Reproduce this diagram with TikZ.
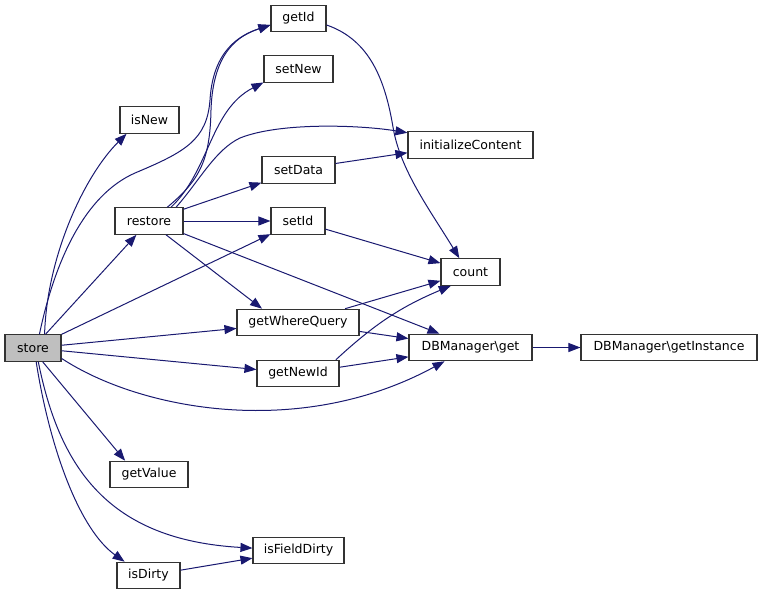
\documentclass[tikz,border=0pt]{standalone}
\usepackage{fontspec}
\setmainfont{DejaVu Sans}
\usetikzlibrary{arrows.meta}
\definecolor{edgeblue}{HTML}{191970}
\tikzset{
  fn/.style={draw=black!80, line width=1.1pt, fill=white, inner sep=0pt,
    font=\fontsize{12.5}{15}\selectfont, minimum height=26.5pt},
  cur/.style={fn, fill=black!25},
  call/.style={draw=edgeblue, line width=1pt, -{Triangle[length=12pt,width=9pt]}, arrows={-{Triangle[length=12pt,width=9pt,fill=edgeblue]}}}
}
\begin{document}
\begin{tikzpicture}[x=1pt,y=-1pt]
\useasboundingbox (0,0) rectangle (763,595);
\node[cur, minimum width=56pt] (store) at (33,348) {store};
\node[fn, minimum width=59pt] (isNew) at (149.5,120) {isNew};
\node[fn, minimum width=68pt] (restore) at (149,221) {restore};
\node[fn, minimum width=55pt] (getId) at (298.5,18.5) {getId};
\node[fn, minimum width=69pt] (setNew) at (298.5,69) {setNew};
\node[fn, minimum width=73pt] (setData) at (298.5,170) {setData};
\node[fn, minimum width=54pt] (setId) at (298,221) {setId};
\node[fn, minimum width=125pt] (init) at (470.5,145) {initializeContent};
\node[fn, minimum width=59pt] (count) at (470.5,272) {count};
\node[fn, minimum width=122pt] (where) at (298,322.5) {getWhereQuery};
\node[fn, minimum width=82pt] (newid) at (298,373.5) {getNewId};
\node[fn, minimum width=123pt] (dbget) at (470.5,347.5) {DBManager\textbackslash get};
\node[fn, minimum width=176pt] (dbinst) at (669,347.5) {DBManager\textbackslash getInstance};
\node[fn, minimum width=78pt] (getValue) at (149,474.5) {getValue};
\node[fn, minimum width=91pt] (fdirty) at (298.5,550.5) {isFieldDirty};
\node[fn, minimum width=63pt] (isDirty) at (148.5,575.5) {isDirty};

% from store
\draw[call] (store.50) .. controls (47,255) and (85,175) .. (isNew.-149);
\draw[call] (store.65) .. controls (55,260) and (85,195) .. (135,173)
  .. controls (185,152) and (207,140) .. (210,100)
  .. controls (213,50) and (240,35) .. (getId.-167);
\draw[call] (store) -- (restore);
\draw[call] (store) -- (setId);
\draw[call] (store) -- (where);
\draw[call] (store) -- (newid);
\draw[call] (store.-20) .. controls (140,410) and (300,440) .. (dbget.-152);
\draw[call] (store.-55) -- (getValue.150);
\draw[call] (store.-69) .. controls (60,470) and (110,540) .. (fdirty.177);
\draw[call] (store.-77) .. controls (50,450) and (80,530) .. (isDirty.150);

% from restore
\draw[call] (restore.37) .. controls (200,180) and (210,160) .. (211,110)
  .. controls (213,50) and (240,35) .. (getId.-167);
\draw[call] (restore.32) .. controls (210,170) and (210,110) .. (setNew.-159);
\draw[call] (restore.27) .. controls (200,180) and (215,150) .. (240,138)
  .. controls (280,122) and (360,125) .. (init.169);
\draw[call] (restore) -- (setData);
\draw[call] (restore) -- (setId);
\draw[call] (restore.-39) -- (where.159);
\draw[call] (restore.-20) -- (dbget.156);

% others
\draw[call] (setData.10) -- (init.-173);
\draw[call] (getId.-13) .. controls (370,40) and (385,80) .. (393,127)
  .. controls (400,170) and (430,210) .. (count.129);
\draw[call] (setId) -- (count);
\draw[call] (where) -- (count);
\draw[call] (where) -- (dbget);
\draw[call] (newid.20) to[bend left=10] (count.-145);
\draw[call] (newid) -- (dbget);
\draw[call] (dbget) -- (dbinst);
\draw[call] (isDirty) -- (fdirty);
\end{tikzpicture}
\end{document}
